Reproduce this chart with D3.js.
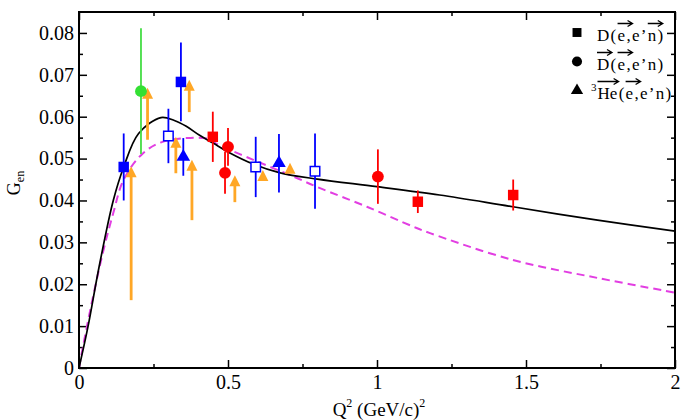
<!DOCTYPE html>
<html>
<head>
<meta charset="utf-8">
<script src="https://cdn.jsdelivr.net/npm/d3@7"></script>
<style>
  body { margin: 0; background: #fff; }
  svg { display: block; }
</style>
</head>
<body>
<svg id="chart" width="683" height="420" font-family="Liberation Serif"></svg>
<script>
// curves: [Q2, Gen]
const blackCurve = [[0,0],[0.03,0.0098],[0.067,0.024],[0.115,0.040],[0.15,0.048],[0.2,0.056],
  [0.275,0.0598],[0.32,0.0591],[0.36,0.0577],[0.406,0.0555],[0.45,0.0537],[0.50,0.0516],
  [0.585,0.0487],[0.675,0.0466],[0.80,0.0451],[1.0,0.0433],[1.21,0.0413],[1.456,0.0385],
  [1.74,0.0353],[2.0,0.0327]];
const magentaCurve = [[0,0],[0.013,0.005],[0.04,0.0146],[0.08,0.0275],[0.115,0.037],[0.15,0.045],
  [0.215,0.0513],[0.28,0.054],[0.36,0.0549],[0.436,0.0547],[0.46,0.0536],[0.585,0.0497],
  [0.72,0.0457],[0.80,0.0432],[0.966,0.0385],[1.12,0.0338],[1.178,0.0322],[1.456,0.0258],
  [1.74,0.0215],[2.0,0.018]];

// data points: [Q2, Gen, error]
const blueSquares = [[0.15,0.048,0.008],[0.342,0.0683,0.0094]];
const blueOpenSquares = [[0.30,0.0554,0.0065],[0.593,0.048,0.0072],[0.792,0.047,0.009]];
const blueTriangles = [[0.35,0.0504,0.0045],[0.671,0.0489,0.007]];
const greenCircles = [[0.208,0.0661,0.015]];
const redSquares = [[0.449,0.0552,0.006],[1.137,0.0397,0.0027],[1.457,0.0413,0.0037]];
const redCircles = [[0.50,0.0528,0.0045],[0.49,0.0466,0.005],[1.003,0.0457,0.0065]];

// orange arrows: [Q2, from, to]
const arrows = [[0.175,0.0162,0.0482],[0.23,0.0545,0.0669],[0.37,0.0611,0.0688],
  [0.325,0.0465,0.0552],[0.379,0.0353,0.0497],[0.523,0.0396,0.046],
  [0.617,0.0448,0.0473],[0.708,0.0468,0.049]];

const xTicks = [0, 0.5, 1, 1.5, 2];
const xMinor = [0.25, 0.75, 1.25, 1.75];
const yTicks = [0, 0.01, 0.02, 0.03, 0.04, 0.05, 0.06, 0.07, 0.08];
const yMinor = [0.005, 0.015, 0.025, 0.035, 0.045, 0.055, 0.065, 0.075];

const W = 683, H = 420;
const margin = { top: 12, right: 8, bottom: 52, left: 79 };
const iw = W - margin.left - margin.right;
const ih = H - margin.top - margin.bottom;
const serif = "Liberation Serif";

const svg = d3.select("#chart");
const g = svg.append("g").attr("transform", `translate(${margin.left},${margin.top})`);

const x = d3.scaleLinear().domain([0, 2]).range([0, iw]);
const y = d3.scaleLinear().domain([0, 0.085]).range([ih, 0]);

// axes, ticks pointing inward on all four sides
function styleAxis(sel) {
  sel.attr("font-family", serif);
  sel.select(".domain").remove();
  sel.selectAll(".tick line").attr("stroke", "#000").attr("stroke-width", 1.5);
  sel.selectAll("text").attr("font-size", 20).attr("font-family", serif).attr("fill", "#000");
}
g.append("g").attr("transform", `translate(0,${ih})`)
  .call(d3.axisBottom(x).tickValues(xTicks).tickSizeInner(-8).tickSizeOuter(0).tickPadding(7).tickFormat(d => String(d)))
  .call(styleAxis);
g.append("g").attr("transform", `translate(0,${ih})`)
  .call(d3.axisBottom(x).tickValues(xMinor).tickSizeInner(-4).tickSizeOuter(0).tickFormat(""))
  .call(styleAxis);
g.append("g")
  .call(d3.axisTop(x).tickValues(xTicks).tickSizeInner(-8).tickSizeOuter(0).tickFormat(""))
  .call(styleAxis);
g.append("g")
  .call(d3.axisTop(x).tickValues(xMinor).tickSizeInner(-4).tickSizeOuter(0).tickFormat(""))
  .call(styleAxis);
g.append("g")
  .call(d3.axisLeft(y).tickValues(yTicks).tickSizeInner(-8).tickSizeOuter(0).tickPadding(5)
    .tickFormat(d => d === 0 ? "0" : d3.format(".2f")(d)))
  .call(styleAxis);
g.append("g")
  .call(d3.axisLeft(y).tickValues(yMinor).tickSizeInner(-4).tickSizeOuter(0).tickFormat(""))
  .call(styleAxis);
g.append("g").attr("transform", `translate(${iw},0)`)
  .call(d3.axisRight(y).tickValues(yTicks).tickSizeInner(-8).tickSizeOuter(0).tickFormat(""))
  .call(styleAxis);
g.append("g").attr("transform", `translate(${iw},0)`)
  .call(d3.axisRight(y).tickValues(yMinor).tickSizeInner(-4).tickSizeOuter(0).tickFormat(""))
  .call(styleAxis);

// curves
const line = d3.line().x(d => x(d[0])).y(d => y(d[1])).curve(d3.curveCatmullRom.alpha(0.5));
g.append("path").datum(magentaCurve).attr("d", line)
  .attr("fill", "none").attr("stroke", "#e23ee2").attr("stroke-width", 2)
  .attr("stroke-dasharray", "8,5");
g.append("path").datum(blackCurve).attr("d", line)
  .attr("fill", "none").attr("stroke", "#000").attr("stroke-width", 1.7);

// orange arrows
const orange = "#ffa726";
arrows.forEach(([q, a, b]) => {
  const xa = x(q), y0 = y(a), y1 = y(b);
  const head = 11;
  if (y0 - y1 > head) {
    g.append("line").attr("x1", xa).attr("x2", xa).attr("y1", y0).attr("y2", y1 + head - 1)
      .attr("stroke", orange).attr("stroke-width", 2.8);
  }
  g.append("path")
    .attr("d", `M${xa - 5.5},${y1 + head} L${xa},${y1} L${xa + 5.5},${y1 + head} Z`)
    .attr("fill", orange);
});

// error bars and markers
function errorBars(data, color) {
  g.append("g").selectAll("line").data(data).join("line")
    .attr("x1", d => x(d[0])).attr("x2", d => x(d[0]))
    .attr("y1", d => y(d[1] - d[2])).attr("y2", d => y(d[1] + d[2]))
    .attr("stroke", color).attr("stroke-width", 1.8);
}
function markers(data, type, color, open) {
  const size = type === d3.symbolCircle ? 110 : type === d3.symbolTriangle ? 80 : 110;
  g.append("g").selectAll("path").data(data).join("path")
    .attr("transform", d => `translate(${x(d[0])},${y(d[1])})`)
    .attr("d", d3.symbol().type(type).size(open ? 90 : size))
    .attr("fill", open ? "#fff" : color)
    .attr("stroke", open ? color : "none")
    .attr("stroke-width", 1.5);
}
const blue = "#0000ff", red = "#ff0000", green = "#33e033";
errorBars(greenCircles, "#44dd44");
errorBars(blueSquares, blue);
errorBars(blueOpenSquares, blue);
errorBars(blueTriangles, blue);
errorBars(redSquares, red);
errorBars(redCircles, red);
markers(greenCircles, d3.symbolCircle, green, false);
markers(blueSquares, d3.symbolSquare, blue, false);
markers(blueOpenSquares, d3.symbolSquare, blue, true);
markers(blueTriangles, d3.symbolTriangle, blue, false);
markers(redSquares, d3.symbolSquare, red, false);
markers(redCircles, d3.symbolCircle, red, false);

// frame
g.append("rect").attr("width", iw).attr("height", ih)
  .attr("fill", "none").attr("stroke", "#000").attr("stroke-width", 2);

// legend: [text, arrow over it, superscript]
const legendItems = [
  { type: d3.symbolSquare, parts: [["D"], ["("], ["e", 1], [","], ["e"], ["\u2019"], ["n", 1], [")"]] },
  { type: d3.symbolCircle, parts: [["D", 1], ["("], ["e", 1], [","], ["e"], ["\u2019"], ["n"], [")"]] },
  { type: d3.symbolTriangle, parts: [["3", 0, 1], ["He", 1], ["("], ["e", 1], [","], ["e"], ["\u2019"], ["n"], [")"]] }
];
const lg = svg.append("g").attr("font-family", serif);
legendItems.forEach((item, i) => {
  const cy = 32.5 + i * 29;
  lg.append("path").attr("transform", `translate(577,${cy})`)
    .attr("d", d3.symbol().type(item.type).size(item.type === d3.symbolTriangle ? 65 : 80))
    .attr("fill", "#000");
  let cx = item.parts[0][2] ? 591 : 597;
  const base = cy + 8;
  item.parts.forEach(([t, arrow, sup]) => {
    const txt = lg.append("text").attr("x", cx).attr("y", sup ? base - 8 : base)
      .attr("font-family", serif).attr("font-size", sup ? 11 : 17).text(t);
    const w = txt.node().getComputedTextLength() + (sup ? 1 : 1.3);
    if (arrow) {
      const len = Math.max(w, 15);
      const x0 = cx, x1 = cx + len, ay = base - 17;
      lg.append("path")
        .attr("d", `M${x0},${ay} H${x1} M${x1 - 5},${ay - 3} L${x1},${ay} L${x1 - 5},${ay + 3}`)
        .attr("fill", "none").attr("stroke", "#000").attr("stroke-width", 1.3);
    }
    cx += w;
  });
});

// axis titles
const yl = svg.append("text")
  .attr("transform", "translate(20,183) rotate(-90)")
  .attr("text-anchor", "middle").attr("font-family", serif).attr("font-size", 18);
yl.append("tspan").text("G");
yl.append("tspan").attr("font-size", 12).attr("dy", 4).text("en");

const xl = svg.append("text").attr("x", margin.left + iw / 2 + 2).attr("y", 416)
  .attr("text-anchor", "middle").attr("font-family", serif).attr("font-size", 19);
xl.append("tspan").text("Q");
xl.append("tspan").attr("font-size", 12).attr("dy", -9).text("2");
xl.append("tspan").attr("dy", 9).text("\u00a0(GeV/c)");
xl.append("tspan").attr("font-size", 12).attr("dy", -9).text("2");
</script>
</body>
</html>
